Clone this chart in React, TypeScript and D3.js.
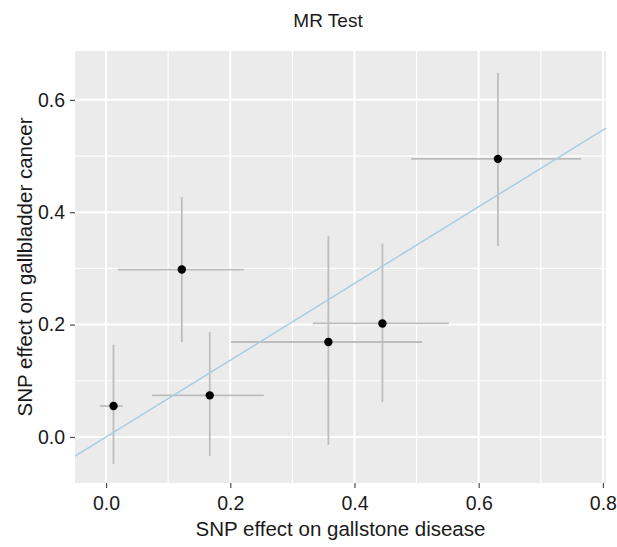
import React, { useRef, useEffect } from "react";
import * as d3 from "d3";

// SNP estimates: exposure (gallstone disease) and outcome (gallbladder cancer)
const bx = [0.012, 0.167, 0.122, 0.358, 0.445, 0.631];
const by = [0.055, 0.074, 0.298, 0.169, 0.202, 0.495];
// error bar extents
const xLo = [-0.01, 0.074, 0.019, 0.201, 0.333, 0.491];
const xHi = [0.027, 0.254, 0.222, 0.509, 0.552, 0.765];
const yLo = [-0.048, -0.034, 0.169, -0.014, 0.062, 0.34];
const yHi = [0.164, 0.187, 0.427, 0.358, 0.344, 0.648];

const slope = 0.683;
const intercept = 0;

const xTicks = [0.0, 0.2, 0.4, 0.6, 0.8];
const yTicks = [0.0, 0.2, 0.4, 0.6];
const xMinor = [0.1, 0.3, 0.5, 0.7];
const yMinor = [0.1, 0.3, 0.5];

function App() {
  const svgRef = useRef(null);

  useEffect(() => {
    const svg = d3.select(svgRef.current);
    svg.selectAll("*").remove();

    const width = 617;
    const height = 547;
    const margin = { top: 51, right: 11, bottom: 64, left: 75 };
    const font = "'Liberation Sans', Arial, sans-serif";

    const x = d3
      .scaleLinear()
      .domain([-0.05, 0.805])
      .range([margin.left, width - margin.right]);

    const y = d3
      .scaleLinear()
      .domain([-0.082, 0.687])
      .range([height - margin.bottom, margin.top]);

    svg.attr("width", width).attr("height", height);

    // panel background
    svg
      .append("rect")
      .attr("x", margin.left)
      .attr("y", margin.top)
      .attr("width", width - margin.left - margin.right)
      .attr("height", height - margin.top - margin.bottom)
      .attr("fill", "#ebebeb");

    const grid = svg.append("g").attr("stroke", "#ffffff");

    // minor grid
    grid
      .append("g")
      .selectAll("line")
      .data(xMinor)
      .join("line")
      .attr("x1", (d) => x(d))
      .attr("x2", (d) => x(d))
      .attr("y1", margin.top)
      .attr("y2", height - margin.bottom)
      .attr("stroke-width", 1.2);
    grid
      .append("g")
      .selectAll("line")
      .data(yMinor)
      .join("line")
      .attr("y1", (d) => y(d))
      .attr("y2", (d) => y(d))
      .attr("x1", margin.left)
      .attr("x2", width - margin.right)
      .attr("stroke-width", 1.2);

    // major grid
    grid
      .append("g")
      .selectAll("line")
      .data(xTicks)
      .join("line")
      .attr("x1", (d) => x(d))
      .attr("x2", (d) => x(d))
      .attr("y1", margin.top)
      .attr("y2", height - margin.bottom)
      .attr("stroke-width", 2);
    grid
      .append("g")
      .selectAll("line")
      .data(yTicks)
      .join("line")
      .attr("y1", (d) => y(d))
      .attr("y2", (d) => y(d))
      .attr("x1", margin.left)
      .attr("x2", width - margin.right)
      .attr("stroke-width", 2);

    const idx = d3.range(bx.length);

    // error bars
    const bars = svg.append("g").attr("stroke", "#bdbdbd").attr("stroke-width", 1.8);
    bars
      .append("g")
      .selectAll("line")
      .data(idx)
      .join("line")
      .attr("x1", (i) => x(bx[i]))
      .attr("x2", (i) => x(bx[i]))
      .attr("y1", (i) => y(yLo[i]))
      .attr("y2", (i) => y(yHi[i]));
    bars
      .append("g")
      .selectAll("line")
      .data(idx)
      .join("line")
      .attr("x1", (i) => x(xLo[i]))
      .attr("x2", (i) => x(xHi[i]))
      .attr("y1", (i) => y(by[i]))
      .attr("y2", (i) => y(by[i]));

    // MR regression line, clipped to panel
    svg
      .append("clipPath")
      .attr("id", "panel-clip")
      .append("rect")
      .attr("x", margin.left)
      .attr("y", margin.top)
      .attr("width", width - margin.left - margin.right)
      .attr("height", height - margin.top - margin.bottom);

    const [x0, x1] = x.domain();
    svg
      .append("line")
      .attr("clip-path", "url(#panel-clip)")
      .attr("x1", x(x0))
      .attr("x2", x(x1))
      .attr("y1", y(intercept + slope * x0))
      .attr("y2", y(intercept + slope * x1))
      .attr("stroke", "#a6cee3")
      .attr("stroke-width", 1.5);

    // points
    svg
      .append("g")
      .selectAll("circle")
      .data(idx)
      .join("circle")
      .attr("cx", (i) => x(bx[i]))
      .attr("cy", (i) => y(by[i]))
      .attr("r", 4.2)
      .attr("fill", "#000");

    // axes
    const xAxis = svg
      .append("g")
      .attr("transform", `translate(0, ${height - margin.bottom})`)
      .call(
        d3
          .axisBottom(x)
          .tickValues(xTicks)
          .tickFormat(d3.format(".1f"))
          .tickSize(5)
          .tickPadding(8)
      );
    const yAxis = svg
      .append("g")
      .attr("transform", `translate(${margin.left}, 0)`)
      .call(
        d3
          .axisLeft(y)
          .tickValues(yTicks)
          .tickFormat(d3.format(".1f"))
          .tickSize(5)
          .tickPadding(5)
      );

    [xAxis, yAxis].forEach((g) => {
      g.select(".domain").remove();
      g.selectAll(".tick line").attr("stroke", "#4d4d4d").attr("stroke-width", 1.2);
      g.selectAll(".tick text")
        .attr("fill", "#1a1a1a")
        .style("font-family", font)
        .style("font-size", "19.5px");
    });

    // titles
    svg
      .append("text")
      .attr("x", 328)
      .attr("y", 27)
      .attr("text-anchor", "middle")
      .style("font-family", font)
      .style("font-size", "19px")
      .attr("fill", "#1a1a1a")
      .text("MR Test");

    svg
      .append("text")
      .attr("x", (margin.left + width - margin.right) / 2)
      .attr("y", 536)
      .attr("text-anchor", "middle")
      .style("font-family", font)
      .style("font-size", "20.5px")
      .attr("fill", "#1a1a1a")
      .text("SNP effect on gallstone disease");

    svg
      .append("text")
      .attr(
        "transform",
        `translate(32, ${(margin.top + height - margin.bottom) / 2}) rotate(-90)`
      )
      .attr("text-anchor", "middle")
      .style("font-family", font)
      .style("font-size", "20.5px")
      .attr("fill", "#1a1a1a")
      .text("SNP effect on gallbladder cancer");
  }, []);

  return (
    <div style={{ position: "absolute", left: 0, top: 0, width: 617, height: 547, overflow: "hidden" }}>
      <svg ref={svgRef} style={{ display: "block" }}></svg>
    </div>
  );
}

export default App;
